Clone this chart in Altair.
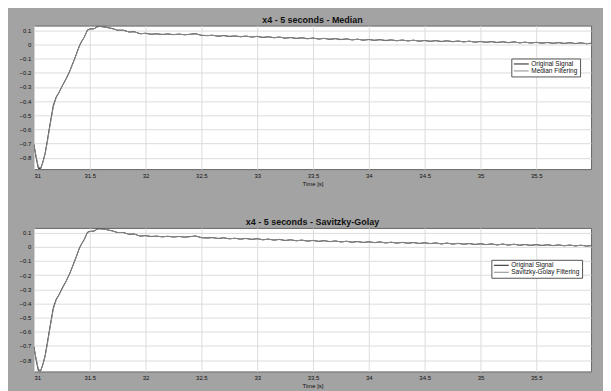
import altair as alt
import pandas as pd

# ---- data ----
t_rise = [31.00, 31.02, 31.04, 31.06, 31.08, 31.10, 31.12, 31.145, 31.174, 31.20,
          31.22, 31.26, 31.29, 31.32, 31.35, 31.378, 31.407, 31.43, 31.45, 31.48,
          31.50, 31.52, 31.54, 31.56, 31.58, 31.61]
orig_rise = [-0.705, -0.80, -0.875, -0.878, -0.83, -0.77, -0.68, -0.56, -0.43, -0.37,
             -0.345, -0.283, -0.24, -0.19, -0.13, -0.073, -0.01, 0.025, 0.05, 0.103,
             0.108, 0.110, 0.111, 0.122, 0.128, 0.126]
filt_rise = [-0.71, -0.79, -0.865, -0.872, -0.835, -0.775, -0.69, -0.57, -0.44, -0.375,
             -0.348, -0.286, -0.243, -0.193, -0.133, -0.076, -0.013, 0.022, 0.048, 0.100,
             0.107, 0.109, 0.111, 0.120, 0.126, 0.125]

t_tail = [31.65, 31.70, 31.75, 31.80, 31.85, 31.90, 31.95, 32.00, 32.05, 32.10,
          32.15, 32.20, 32.25, 32.30, 32.35, 32.40, 32.45, 32.50, 32.55, 32.60,
          32.65, 32.70, 32.75, 32.80, 32.85, 32.90, 32.95, 33.00, 33.05, 33.10,
          33.15, 33.20, 33.25, 33.30, 33.35, 33.40, 33.45, 33.50, 33.55, 33.60,
          33.65, 33.70, 33.75, 33.80, 33.85, 33.90, 33.95, 34.00, 34.05, 34.10,
          34.15, 34.20, 34.25, 34.30, 34.35, 34.40, 34.45, 34.50, 34.55, 34.60,
          34.65, 34.70, 34.75, 34.80, 34.85, 34.90, 34.95, 35.00, 35.05, 35.10,
          35.15, 35.20, 35.25, 35.30, 35.35, 35.40, 35.45, 35.50, 35.55, 35.60,
          35.65, 35.70, 35.75, 35.80, 35.85, 35.90, 35.95, 35.99]
orig_tail = [0.121, 0.113, 0.100, 0.101, 0.088, 0.090, 0.075, 0.079, 0.072, 0.075,
             0.070, 0.074, 0.069, 0.073, 0.068, 0.072, 0.076, 0.064, 0.062, 0.065,
             0.058, 0.063, 0.056, 0.060, 0.054, 0.059, 0.052, 0.057, 0.049, 0.054,
             0.047, 0.052, 0.044, 0.049, 0.042, 0.047, 0.040, 0.045, 0.038, 0.043,
             0.036, 0.041, 0.034, 0.039, 0.032, 0.037, 0.030, 0.035, 0.029, 0.034,
             0.027, 0.032, 0.026, 0.031, 0.025, 0.030, 0.023, 0.028, 0.022, 0.027,
             0.020, 0.026, 0.019, 0.024, 0.018, 0.023, 0.016, 0.021, 0.015, 0.020,
             0.013, 0.019, 0.012, 0.018, 0.011, 0.016, 0.010, 0.015, 0.009, 0.014,
             0.008, 0.013, 0.007, 0.012, 0.006, 0.011, 0.005, 0.008]
median_tail = [0.120, 0.111, 0.101, 0.099, 0.089, 0.088, 0.077, 0.077, 0.073, 0.074,
               0.071, 0.073, 0.070, 0.072, 0.069, 0.071, 0.074, 0.065, 0.063, 0.064,
               0.060, 0.062, 0.058, 0.059, 0.056, 0.058, 0.054, 0.056, 0.051, 0.053,
               0.049, 0.051, 0.046, 0.048, 0.044, 0.046, 0.042, 0.044, 0.040, 0.042,
               0.038, 0.040, 0.036, 0.038, 0.034, 0.036, 0.032, 0.034, 0.030, 0.033,
               0.029, 0.031, 0.027, 0.030, 0.026, 0.029, 0.025, 0.027, 0.023, 0.026,
               0.022, 0.025, 0.021, 0.023, 0.019, 0.022, 0.018, 0.020, 0.016, 0.019,
               0.015, 0.018, 0.014, 0.017, 0.012, 0.015, 0.011, 0.014, 0.010, 0.013,
               0.009, 0.012, 0.008, 0.011, 0.007, 0.010, 0.006, 0.008]
sg_tail = [0.121, 0.112, 0.101, 0.100, 0.089, 0.089, 0.076, 0.078, 0.073, 0.074,
           0.071, 0.073, 0.070, 0.072, 0.069, 0.071, 0.075, 0.065, 0.062, 0.064,
           0.059, 0.062, 0.057, 0.059, 0.055, 0.058, 0.053, 0.056, 0.050, 0.053,
           0.048, 0.051, 0.045, 0.048, 0.043, 0.046, 0.041, 0.044, 0.039, 0.042,
           0.037, 0.040, 0.035, 0.038, 0.033, 0.036, 0.031, 0.034, 0.030, 0.033,
           0.028, 0.031, 0.027, 0.030, 0.026, 0.029, 0.024, 0.027, 0.023, 0.026,
           0.021, 0.025, 0.020, 0.023, 0.019, 0.022, 0.017, 0.020, 0.016, 0.019,
           0.014, 0.018, 0.013, 0.017, 0.012, 0.015, 0.011, 0.014, 0.010, 0.013,
           0.009, 0.012, 0.008, 0.011, 0.007, 0.010, 0.006, 0.008]

x_ticks = [31, 31.5, 32, 32.5, 33, 33.5, 34, 34.5, 35, 35.5]
y_ticks = [-0.8, -0.7, -0.6, -0.5, -0.4, -0.3, -0.2, -0.1, 0, 0.1]
x_dom = [31, 35.99]
y_dom = [-0.88, 0.133]

FONT = "Liberation Sans"


def make_panel(title, filt_name, filt_rise_vals, filt_tail_vals, lx, ly):
    t = t_rise + t_tail
    rows = []
    for ti, v in zip(t, orig_rise + orig_tail):
        rows.append({"t": ti, "v": v, "s": "Original Signal", "o": 0})
    for ti, v in zip(t, filt_rise_vals + filt_tail_vals):
        rows.append({"t": ti, "v": v, "s": filt_name, "o": 1})
    df = pd.DataFrame(rows)
    return alt.Chart(df, title=alt.Title(title, fontSize=9, fontWeight="bold",
                                         font=FONT, color="#111", offset=1)).mark_line(
        strokeWidth=1, clip=True
    ).encode(
        x=alt.X("t:Q", scale=alt.Scale(domain=x_dom, nice=False, zero=False),
                axis=alt.Axis(values=x_ticks, title="Time [s]", format="~g")),
        y=alt.Y("v:Q", scale=alt.Scale(domain=y_dom, nice=False, zero=False),
                axis=alt.Axis(values=y_ticks, title=None, format="~g",
                              minExtent=16, maxExtent=16)),
        color=alt.Color("s:N",
                        scale=alt.Scale(domain=["Original Signal", filt_name],
                                        range=["#1c1c1c", "#8c8c8c"]),
                        legend=alt.Legend(title=None, orient="none", legendX=lx, legendY=ly,
                                          symbolType="stroke", symbolSize=225,
                                          symbolStrokeWidth=1, labelFontSize=6.5,
                                          labelFont=FONT, labelColor="#111",
                                          fillColor="white", strokeColor="#555",
                                          padding=2, rowPadding=0, clipHeight=7,
                                          labelOffset=2, symbolOffset=0)),
        detail="s:N",
        order="o:Q",
    ).properties(width=559, height=144)


top = make_panel("x4 - 5 seconds - Median", "Median Filtering", filt_rise, median_tail, 479, 33)
bot = make_panel("x4 - 5 seconds - Savitzky-Golay", "Savitzky-Golay Filtering",
                 filt_rise, sg_tail, 459, 32)

chart = alt.vconcat(top, bot, spacing=30).resolve_scale(color="independent").resolve_legend(
    color="independent"
).properties(
    background="#a3a3a3",
    padding={"left": 9, "top": 6, "right": 11, "bottom": 10},
).configure_view(
    stroke="#666", strokeWidth=1, fill="white"
).configure_axis(
    grid=True, gridColor="#dcdcdc", gridWidth=1, domain=False, ticks=False, tickSize=0,
    labelFontSize=6, labelFont=FONT, labelColor="#111", titleFontSize=6, titleFont=FONT,
    titleColor="#111", titleFontWeight="normal", labelPadding=3, titlePadding=2
)

chart.save("out.html", embed_options={"renderer": "svg", "actions": False})
